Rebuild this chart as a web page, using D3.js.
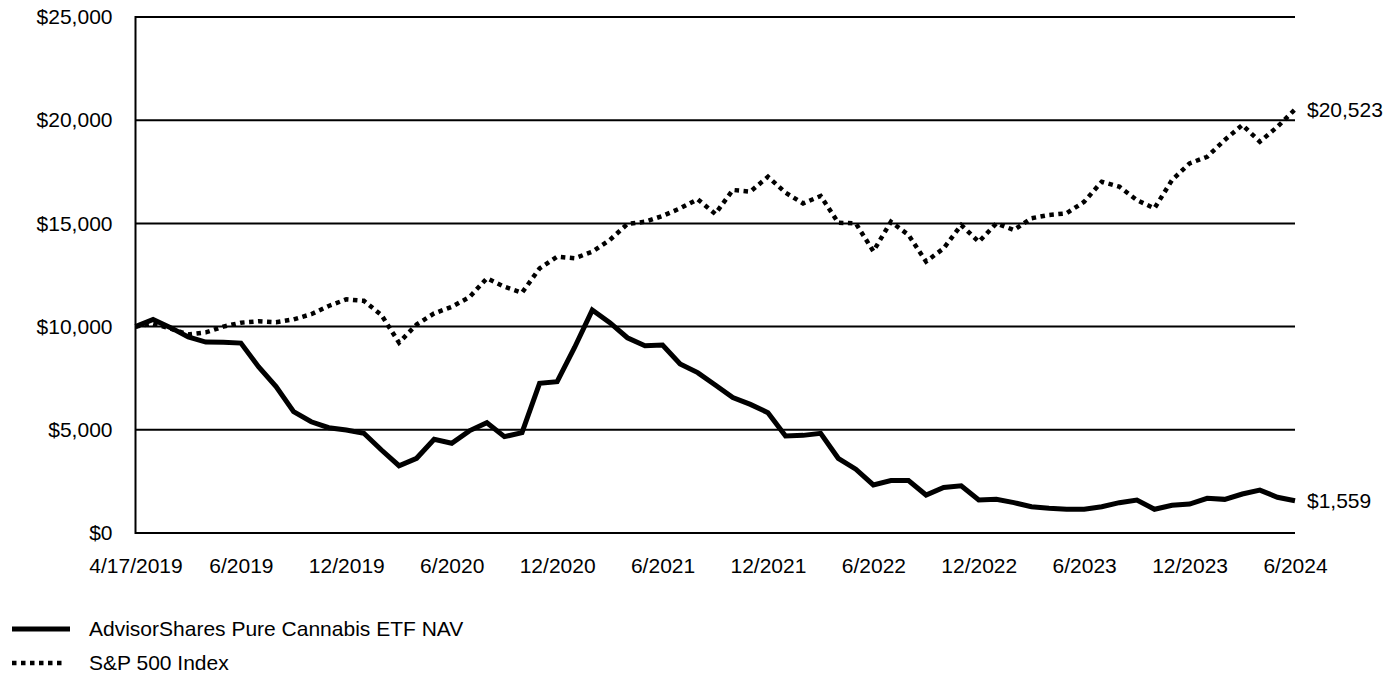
<!DOCTYPE html>
<html>
<head>
<meta charset="utf-8">
<script src="https://cdn.jsdelivr.net/npm/d3@7"></script>
<style>
  html, body { margin: 0; padding: 0; background: #fff; }
  svg { display: block; }
  text { font-family: "Liberation Sans", Arial, sans-serif; fill: #000; }
</style>
</head>
<body>
<svg id="chart" width="1396" height="677"></svg>
<script>
// ---- data ----
const tickLabels = ["4/17/2019", "6/2019", "12/2019", "6/2020", "12/2020", "6/2021",
                    "12/2021", "6/2022", "12/2022", "6/2023", "12/2023", "6/2024"];
const tickEvery = 6;

const seriesNames = ["AdvisorShares Pure Cannabis ETF NAV", "S&P 500 Index"];

const fundValues = [
  10000, 10350, 9950, 9500, 9250, 9240, 9200, 8060, 7090, 5880,
  5390, 5100, 4990, 4830, 4020, 3260, 3620, 4540, 4350, 4950,
  5340, 4670, 4860, 7250, 7330, 9000, 10800, 10190, 9460, 9075,
  9110, 8190, 7770, 7170, 6560, 6230, 5830, 4700, 4730, 4830,
  3620, 3090, 2330, 2540, 2540, 1840, 2210, 2290, 1600, 1630,
  1470, 1270, 1200, 1150, 1150, 1270, 1470, 1600, 1150, 1340,
  1400, 1680, 1630, 1890, 2080, 1730, 1559
];

const indexValues = [
  10000, 10150, 9900, 9620, 9720, 10000, 10190, 10260, 10210, 10350,
  10600, 11000, 11320, 11250, 10560, 9220, 10100, 10640, 10960, 11420,
  12340, 11930, 11640, 12820, 13390, 13310, 13630, 14200, 14970, 15080,
  15360, 15730, 16170, 15460, 16620, 16540, 17260, 16490, 15970, 16330,
  15030, 15000, 13650, 15080, 14440, 13150, 13790, 14920, 14110, 15000,
  14680, 15250, 15410, 15490, 16050, 17020, 16780, 16130, 15730, 17100,
  17910, 18230, 19040, 19770, 18960, 19680, 20523
];

const yTicks = [0, 5000, 10000, 15000, 20000, 25000];

// ---- layout ----
const svg = d3.select("#chart");
const plotL = 135.5, plotR = 1295, plotT = 17, plotB = 533;
const n = fundValues.length;

const x = d3.scaleLinear().domain([0, n - 1]).range([plotL, plotR]);
const y = d3.scaleLinear().domain([0, 25000]).range([plotB, plotT]);
const fmt = v => "$" + d3.format(",")(v);
const FONT = '"Liberation Sans", Arial, sans-serif';

// gridlines
svg.append("g")
  .selectAll("line")
  .data(yTicks)
  .join("line")
  .attr("x1", plotL).attr("x2", plotR)
  .attr("y1", d => y(d)).attr("y2", d => y(d))
  .attr("stroke", "#000").attr("stroke-width", 2);

// left axis line
svg.append("line")
  .attr("x1", plotL).attr("x2", plotL)
  .attr("y1", y(25000) - 1).attr("y2", y(0) + 1)
  .attr("stroke", "#000").attr("stroke-width", 2);

// y axis labels
const yAxis = d3.axisLeft(y).tickValues(yTicks).tickFormat(fmt).tickSize(0).tickPadding(23);
const gy = svg.append("g").attr("transform", `translate(${plotL},0)`).call(yAxis);
gy.select(".domain").remove();
gy.selectAll("text").attr("font-size", 21).style("font-family", FONT).attr("fill", "#000");

// x axis labels
const xTickVals = tickLabels.map((_, i) => i * tickEvery);
const xAxis = d3.axisBottom(x).tickValues(xTickVals).tickFormat((d, i) => tickLabels[i]).tickSize(0).tickPadding(25);
const gx = svg.append("g").attr("transform", `translate(0,${plotB})`).call(xAxis);
gx.select(".domain").remove();
gx.selectAll("text").attr("font-size", 21).style("font-family", FONT).attr("fill", "#000");

// lines
const line = d3.line().x((d, i) => x(i)).y(d => y(d)).curve(d3.curveLinear);

svg.append("path")
  .datum(indexValues)
  .attr("d", line)
  .attr("fill", "none")
  .attr("stroke", "#000")
  .attr("stroke-width", 4.5)
  .attr("stroke-dasharray", "4.5 4.5");

svg.append("path")
  .datum(fundValues)
  .attr("d", line)
  .attr("fill", "none")
  .attr("stroke", "#000")
  .attr("stroke-width", 5)
  .attr("stroke-linejoin", "miter");

// end labels
svg.append("text")
  .attr("x", x(n - 1) + 12).attr("y", y(indexValues[n - 1]))
  .attr("dy", "0.35em").attr("font-size", 21).style("font-family", FONT)
  .text(fmt(indexValues[n - 1]));
svg.append("text")
  .attr("x", x(n - 1) + 12).attr("y", y(fundValues[n - 1]))
  .attr("dy", "0.35em").attr("font-size", 21).style("font-family", FONT)
  .text(fmt(fundValues[n - 1]));

// legend
const legend = svg.append("g");
const legendY = [629, 663];
legend.append("line")
  .attr("x1", 12).attr("x2", 70).attr("y1", legendY[0]).attr("y2", legendY[0])
  .attr("stroke", "#000").attr("stroke-width", 5);
legend.append("line")
  .attr("x1", 12).attr("x2", 62).attr("y1", legendY[1]).attr("y2", legendY[1])
  .attr("stroke", "#000").attr("stroke-width", 4.5).attr("stroke-dasharray", "4.5 4.5");
legend.selectAll("text.leg")
  .data(seriesNames)
  .join("text")
  .attr("class", "leg")
  .attr("x", 89)
  .attr("y", (d, i) => legendY[i])
  .attr("dy", "0.35em")
  .attr("font-size", 21)
  .style("font-family", FONT)
  .text(d => d);
</script>
</body>
</html>
